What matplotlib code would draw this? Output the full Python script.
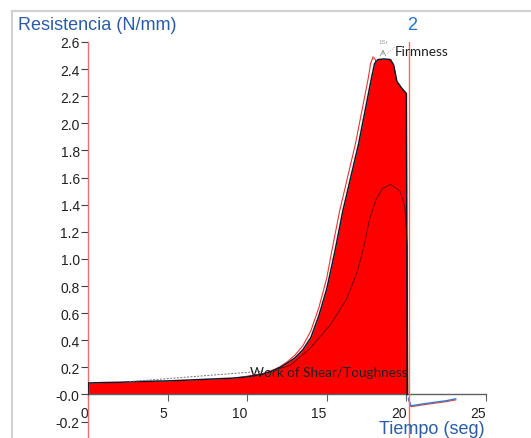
import matplotlib
matplotlib.use('Agg')
import matplotlib.pyplot as plt
from matplotlib.lines import Line2D

# muestra principal (area rellena)
tiempo = [0, 0.02, 1, 2, 3, 4, 5, 6, 7, 8, 9, 10, 10.5, 11, 11.5, 12, 12.5, 13, 13.5,
          14, 14.5, 15, 15.5, 16, 16.5, 17, 17.5, 17.8, 18.0, 18.2, 18.6, 19.0, 19.2,
          19.4, 19.7, 20.0, 20.05]
fuerza = [0, 0.085, 0.088, 0.09, 0.095, 0.098, 0.1, 0.105, 0.11, 0.115, 0.12, 0.13, 0.14,
          0.15, 0.17, 0.195, 0.23, 0.27, 0.33, 0.42, 0.58, 0.78, 1.05, 1.35, 1.6, 1.85,
          2.15, 2.33, 2.44, 2.47, 2.475, 2.47, 2.43, 2.31, 2.26, 2.22, 0]

# segunda muestra (linea roja)
tiempo2 = [9.5, 10.5, 11, 11.5, 12, 12.5, 13, 13.5, 14, 14.5, 15, 15.3, 15.8, 16.3, 16.8,
           17.3, 17.6, 17.75, 17.9, 18.05, 18.3, 19.0, 20.0]
fuerza2 = [0.125, 0.145, 0.155, 0.175, 0.2, 0.24, 0.29, 0.36, 0.47, 0.64, 0.86, 1.05, 1.35,
           1.6, 1.85, 2.15, 2.33, 2.44, 2.49, 2.47, 2.2, 1.5, 0.3]

# tercera muestra (linea negra)
tiempo3 = [12.0, 12.7, 13.9, 15.2, 16.25, 16.9, 17.3, 17.7, 18.1, 18.5, 19.0, 19.6, 19.9,
           20.05, 20.1]
fuerza3 = [0.19, 0.215, 0.335, 0.51, 0.705, 0.9, 1.075, 1.3, 1.44, 1.52, 1.55, 1.5, 1.39,
           1.1, 0]

# linea base del trabajo
base_t = [2.6, 10.1, 11.0]
base_f = [0.095, 0.164, 0.172]

# retorno tras el ensayo
cola_t = [20.13, 20.28, 20.6, 21, 21.5, 22, 22.5, 23.1]
cola_azul = [-0.028, -0.083, -0.078, -0.07, -0.062, -0.054, -0.046, -0.032]
cola_roja = [-0.035, -0.09, -0.085, -0.077, -0.069, -0.061, -0.053, -0.04]

yticks = [-0.2, 0, 0.2, 0.4, 0.6, 0.8, 1.0, 1.2, 1.4, 1.6, 1.8, 2.0, 2.2, 2.4, 2.6]
ylabels = ['-0.2', '-0.0', '0.2', '0.4', '0.6', '0.8', '1.0', '1.2', '1.4', '1.6',
           '1.8', '2.0', '2.2', '2.4', '2.6']
xticks = [0, 5, 10, 15, 20, 25]
fin_ensayo = 20.16

azul = '#2a5ca8'
rojo_claro = '#ee7070'

plt.rcParams['font.family'] = ['Liberation Sans', 'DejaVu Sans']

fig = plt.figure(figsize=(5.31, 4.39), dpi=100)
ax = fig.add_axes([88 / 531, 0, 398 / 531, 396 / 439])
ax.set_xlim(0, 25)
ax.set_ylim(-0.321, 2.6)

ax.plot(tiempo2, fuerza2, color='#f03030', lw=0.8, zorder=1)
ax.fill_between(tiempo, 0, fuerza, color='#ff0000', lw=0, zorder=2)
ax.plot(tiempo, fuerza, color='#101828', lw=1.1, zorder=3)
ax.plot(tiempo3, fuerza3, color='#5a0000', lw=0.6, zorder=3)
ax.plot(base_t, base_f, color='#707070', lw=0.7, ls=(0, (2, 1.5)), zorder=4)
ax.plot(cola_t, cola_roja, color='#e04040', lw=0.8, zorder=3)
ax.plot(cola_t, cola_azul, color='#3a78c8', lw=1.0, zorder=3)
ax.axvline(fin_ensayo, color=rojo_claro, lw=1.0, zorder=5)

for s in ['top', 'right']:
    ax.spines[s].set_visible(False)
ax.spines['left'].set_color(rojo_claro)
ax.spines['left'].set_linewidth(1.0)
ax.spines['bottom'].set_position(('data', 0))
ax.spines['bottom'].set_color('#606060')
ax.spines['bottom'].set_linewidth(1.0)

ax.set_yticks(yticks)
ax.set_yticklabels(ylabels)
ax.set_xticks(xticks)
ax.set_xticklabels([str(t) for t in xticks], ha='right')
ax.tick_params(axis='y', direction='out', length=5, width=0.8, color='#404040',
               labelsize=10, pad=1, labelcolor='#202020')
ax.tick_params(axis='x', direction='out', length=5, width=0.8, color='#606060',
               labelsize=10, pad=3, labelcolor='#202020')

ax.text(10.18, 0.166, 'Work of Shear/Toughness', fontsize=9.7, family='Lato',
        color='#202020', va='center', ha='left', zorder=6)
ax.text(19.28, 2.532, 'Firmness', fontsize=9.8, family='Lato', color='#202020',
        va='center', ha='left', zorder=6)
ax.text(18.53, 2.603, '1Sr', fontsize=4.5, color='#a0a0a0', va='center', ha='center',
        clip_on=False)
ax.annotate('', xy=(18.53, 2.565), xytext=(18.53, 2.49),
            arrowprops=dict(arrowstyle='->', color='#909090', lw=0.6), annotation_clip=False)
ax.plot([18.78, 19.25], [2.515, 2.56], color='#909090', lw=0.6, ls=':', clip_on=False)

fig.text(18 / 531, 1 - 25 / 439, 'Resistencia (N/mm)', fontsize=13, color=azul,
         va='center', ha='left')
fig.text(412 / 531, 1 - 25 / 439, '2', fontsize=13, color='#1e78d0', va='center',
         ha='center')
fig.text(485 / 531, 1 - 430 / 439, 'Tiempo (seg)', fontsize=13, color=azul,
         va='center', ha='right')

# marco gris
fig.add_artist(Line2D([12 / 531, 12 / 531], [0, 1 - 12 / 439], color='#d0d0d0', lw=1.5))
fig.add_artist(Line2D([12 / 531, 1], [1 - 12 / 439, 1 - 12 / 439], color='#d0d0d0', lw=1.5))

fig.savefig('out.png', dpi=100)
